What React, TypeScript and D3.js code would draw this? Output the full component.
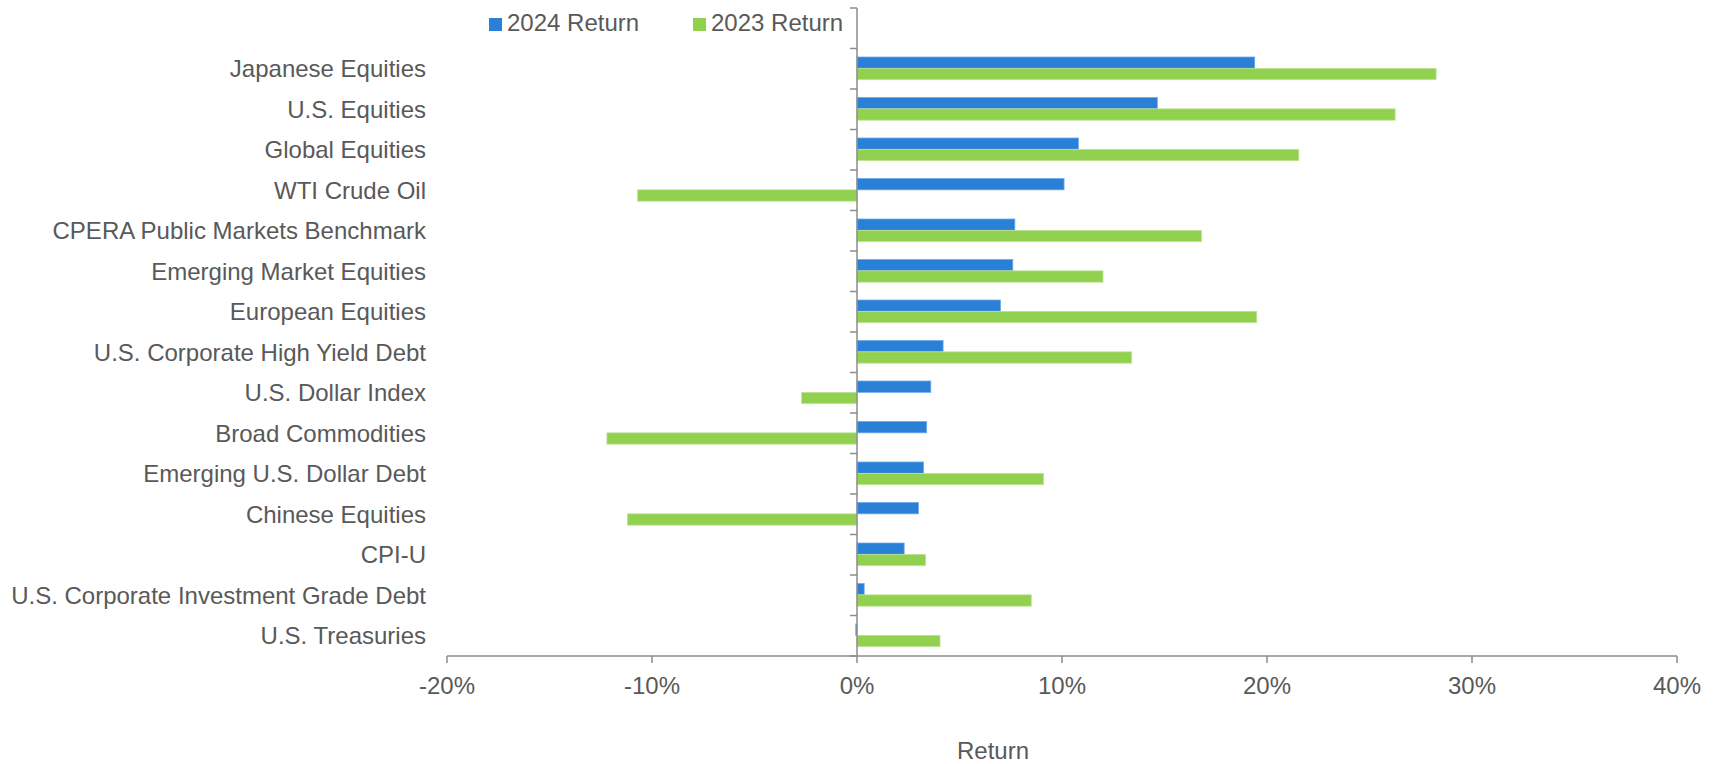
import React from "react";
import * as d3 from "d3";

const categories = [
  "Japanese Equities",
  "U.S. Equities",
  "Global Equities",
  "WTI Crude Oil",
  "CPERA Public Markets Benchmark",
  "Emerging Market Equities",
  "European Equities",
  "U.S. Corporate High Yield Debt",
  "U.S. Dollar Index",
  "Broad Commodities",
  "Emerging U.S. Dollar Debt",
  "Chinese Equities",
  "CPI-U",
  "U.S. Corporate Investment Grade Debt",
  "U.S. Treasuries",
];

const return2024 = [19.4, 14.65, 10.8, 10.1, 7.7, 7.6, 7.0, 4.2, 3.6, 3.4, 3.25, 3.0, 2.3, 0.35, -0.06];
const return2023 = [28.25, 26.25, 21.55, -10.7, 16.8, 12.0, 19.5, 13.4, -2.7, -12.2, 9.1, -11.2, 3.35, 8.5, 4.05];

const seriesNames = ["2024 Return", "2023 Return"];
const seriesColors = ["#2a7fd6", "#92d050"];
const seriesStrokes = ["#6eaae8", "#bfe39a"];
const xTicks = [-20, -10, 0, 10, 20, 30, 40];
const xTitle = "Return";

const W = 1714;
const H = 764;
const FONT = "'Liberation Sans', Arial, sans-serif";
const TEXT = "#595959";
const AXIS = "#8c8c8c";

export default function App() {
  const x = d3.scaleLinear().domain([-20, 40]).range([447, 1677]);
  const bandDomain = ["__blank__", ...categories];
  const y = d3.scaleBand<string>().domain(bandDomain).range([8, 656]).padding(0);
  const bw = y.bandwidth();
  const sub = d3.scaleBand<string>().domain(seriesNames).range([bw * 0.21, bw * 0.77]).padding(0);
  const series = [return2024, return2023];
  const x0 = x(0);
  const boundaries = d3.range(bandDomain.length + 1).map((i) => 8 + i * bw);

  return (
    <svg width={W} height={H} style={{ position: "absolute", left: 0, top: 0, display: "block" }} fontFamily={FONT}>
      <rect width={W} height={H} fill="#fff" />
      {/* bars */}
      {categories.map((c, i) => (
        <g key={c}>
          {series.map((vals, s) => {
            const v = vals[i];
            const bx = Math.min(x(0), x(v));
            const w = Math.abs(x(v) - x(0));
            return (
              <rect
                key={s}
                x={bx}
                y={(y(c) as number) + (sub(seriesNames[s]) as number)}
                width={w}
                height={sub.bandwidth()}
                fill={seriesColors[s]}
                stroke={seriesStrokes[s]}
                strokeWidth={0.8}
              />
            );
          })}
        </g>
      ))}
      {/* y axis */}
      <line x1={x0} x2={x0} y1={boundaries[0]} y2={656} stroke={AXIS} strokeWidth={1.5} />
      {boundaries.map((b, i) => (
        <line key={i} x1={x0 - 7} x2={x0} y1={b} y2={b} stroke={AXIS} strokeWidth={1.5} />
      ))}
      {/* x axis */}
      <line x1={x(-20)} x2={x(40)} y1={656} y2={656} stroke={AXIS} strokeWidth={1.5} />
      {xTicks.map((t) => (
        <g key={t}>
          <line x1={x(t)} x2={x(t)} y1={656} y2={663} stroke={AXIS} strokeWidth={1.5} />
          <text x={x(t)} y={694} textAnchor="middle" fontSize={24} fill={TEXT}>
            {`${t}%`}
          </text>
        </g>
      ))}
      <text x={993} y={759} textAnchor="middle" fontSize={24} fill={TEXT}>
        {xTitle}
      </text>
      {/* category labels */}
      {categories.map((c) => (
        <text
          key={c}
          x={426}
          y={(y(c) as number) + bw / 2}
          dy="0.35em"
          textAnchor="end"
          fontSize={24}
          fill={TEXT}
        >
          {c}
        </text>
      ))}
      {/* legend */}
      {seriesNames.map((n, s) => {
        const lx = [489, 693][s];
        return (
          <g key={n}>
            <rect x={lx} y={18} width={13} height={13} fill={seriesColors[s]} />
            <text x={lx + 18} y={31} fontSize={24} fill={TEXT}>
              {n}
            </text>
          </g>
        );
      })}
    </svg>
  );
}
